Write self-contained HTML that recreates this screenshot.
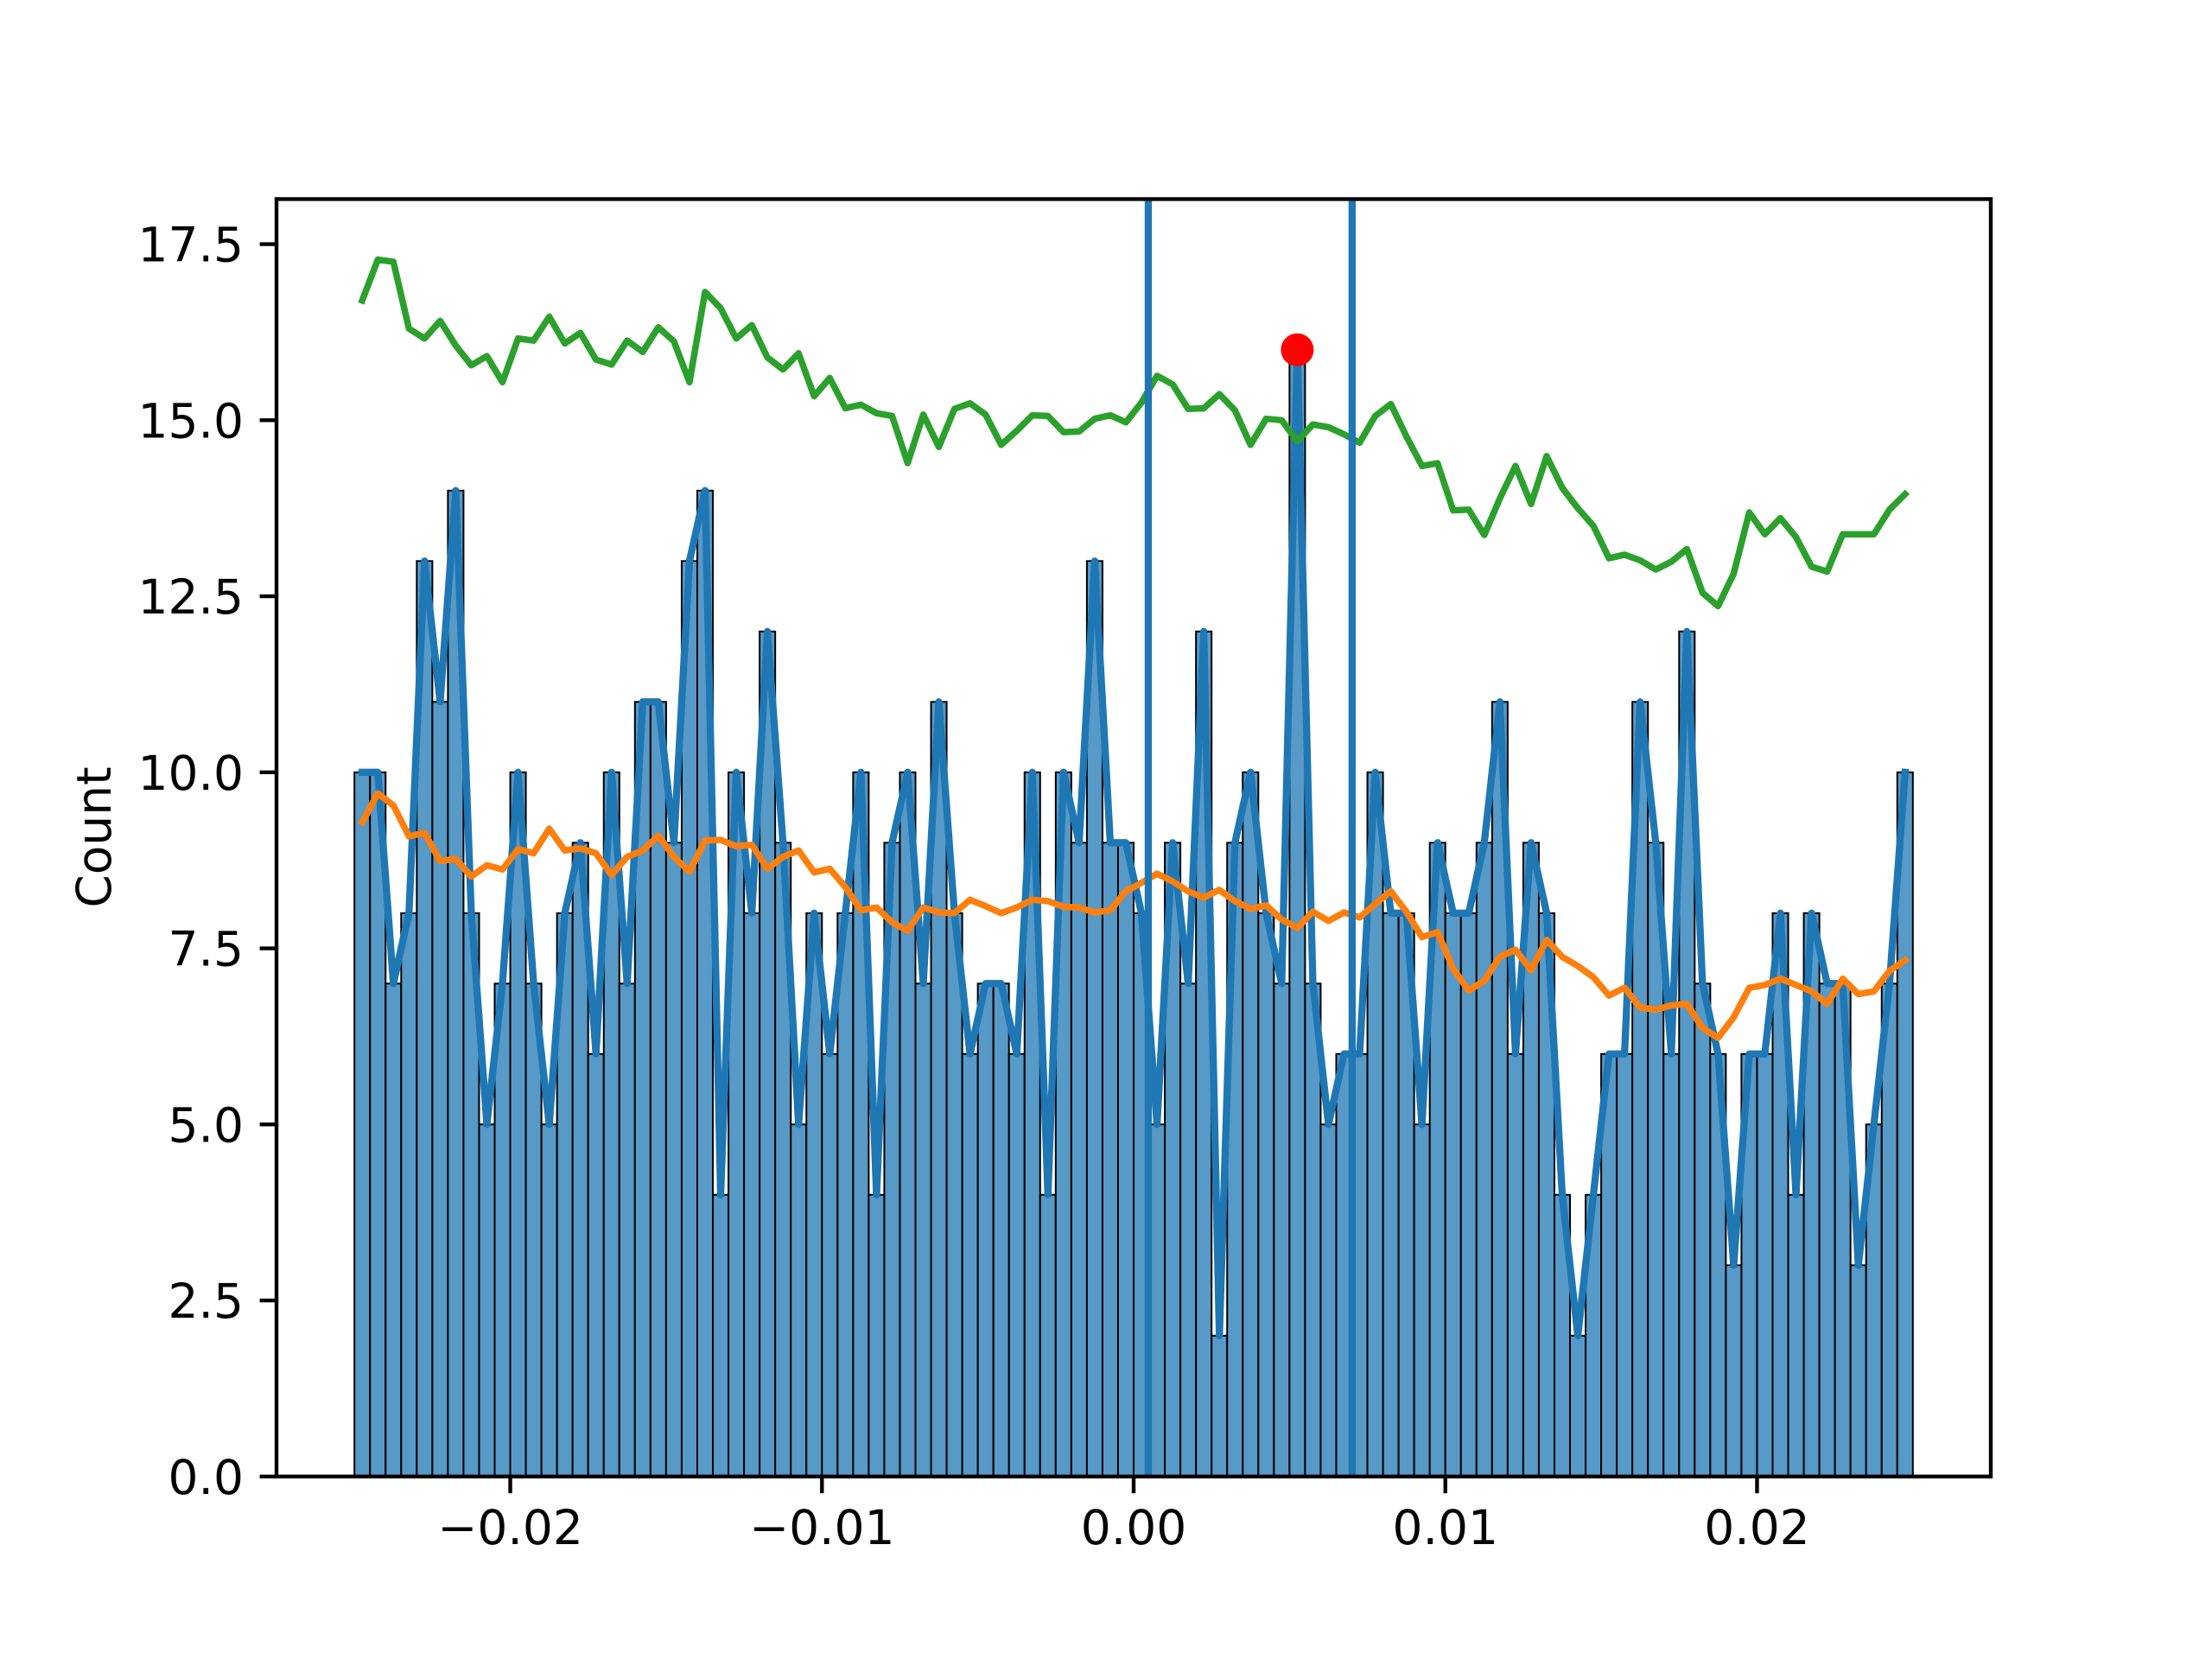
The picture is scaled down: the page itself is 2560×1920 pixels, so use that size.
<!DOCTYPE html>
<html><head><meta charset="utf-8"><style>
html,body{margin:0;padding:0;background:#fff;}
svg{display:block;font-family:"DejaVu Sans","Liberation Sans",sans-serif;}
</style></head>
<body>
<svg id="chart" width="2560" height="1920" viewBox="0 0 2560 1920" xmlns="http://www.w3.org/2000/svg">
<rect x="0" y="0" width="2560" height="1920" fill="#fff"/>
<g id="bars"></g>
<g id="lines"></g>
<g id="axes"></g>
<text x="0" y="0" font-size="55" text-anchor="middle" transform="translate(128,969) rotate(-90)">Count</text>
</svg>
<script>
const counts = [10,10,7,8,13,11,14,8,5,7,10,7,5,8,9,6,10,7,11,11,9,13,14,4,10,
8,12,9,5,8,6,8,10,4,9,10,7,11,8,6,7,7,6,10,4,10,9,13,9,9,
8,5,9,7,12,2,9,10,8,7,16,7,5,6,6,10,8,8,5,9,8,8,9,11,6,
9,8,4,2,4,6,6,11,9,6,12,7,6,3,6,6,8,4,8,7,7,3,5,7,10];
const greenVals = [16.70,17.28,17.25,16.30,16.16,16.41,16.06,15.78,15.91,15.54,16.16,16.13,16.47,16.09,16.24,15.86,15.79,16.13,15.97,16.32,16.12,15.54,16.82,16.59,16.16,
16.35,15.89,15.72,15.95,15.34,15.60,15.17,15.22,15.10,15.06,14.39,15.08,14.62,15.16,15.24,15.08,14.65,14.85,15.07,15.06,14.83,14.84,15.02,15.07,14.97,
15.25,15.63,15.51,15.16,15.17,15.37,15.14,14.65,15.02,15.00,14.70,14.94,14.90,14.80,14.68,15.06,15.23,14.77,14.35,14.39,13.72,13.73,13.37,13.89,14.35,
13.81,14.49,14.04,13.75,13.50,13.04,13.09,13.01,12.88,12.99,13.17,12.55,12.36,12.82,13.69,13.38,13.61,13.34,12.92,12.85,13.38,13.38,13.38,13.73,13.95];
const orangeVals = [9.29,9.70,9.53,9.09,9.14,8.74,8.77,8.52,8.68,8.62,8.91,8.85,9.20,8.89,8.92,8.85,8.54,8.80,8.89,9.10,8.80,8.59,9.03,9.04,8.95,
8.97,8.63,8.80,8.89,8.58,8.63,8.37,8.04,8.08,7.87,7.75,8.08,8.01,8.00,8.19,8.10,8.00,8.08,8.19,8.17,8.09,8.08,8.01,8.04,8.31,
8.43,8.56,8.45,8.31,8.22,8.33,8.17,8.06,8.11,7.91,7.79,8.02,7.89,8.01,7.94,8.13,8.31,8.02,7.66,7.73,7.21,6.90,7.04,7.38,7.48,
7.19,7.62,7.38,7.25,7.09,6.83,6.94,6.66,6.63,6.69,6.71,6.37,6.23,6.52,6.94,6.98,7.07,6.98,6.89,6.71,7.07,6.85,6.89,7.18,7.33];
const vlinePositions = [0.00047, 0.00701];
const peakX = [0.00525];
const peakY = [16];
const yTicks = [0,2.5,5,7.5,10,12.5,15,17.5];
const yTickLabels = ["0.0","2.5","5.0","7.5","10.0","12.5","15.0","17.5"];
const xTicks = [-0.02,-0.01,0,0.01,0.02];
const xTickLabels = ["\u22120.02","\u22120.01","0.00","0.01","0.02"];
const binStart = -0.025, binWidth = 0.0005;

const L=320,R=2304,T=230.4,B=1708.8;
const XMIN=-0.0275,XMAX=0.0275,YMIN=0,YMAX=18.14;
function X(v){return L+(v-XMIN)/(XMAX-XMIN)*(R-L);}
function Y(v){return B-(v-YMIN)/(YMAX-YMIN)*(B-T);}
const NS="http://www.w3.org/2000/svg";
function mk(tag,attrs,parent){const e=document.createElementNS(NS,tag);for(const k in attrs)e.setAttribute(k,attrs[k]);parent.appendChild(e);return e;}

const gb=document.getElementById('bars');
counts.forEach((c,i)=>{
  const x0=X(binStart+i*binWidth), x1=X(binStart+(i+1)*binWidth);
  const r=mk('rect',{x:x0,y:Y(c),width:x1-x0,height:Y(0)-Y(c),fill:'#5799c7',stroke:'#000','stroke-width':2},gb);
  
  
});
const gl=document.getElementById('lines');
function poly(vals,color,w,name){
  const pts=vals.map((v,i)=>X(binStart+(i+0.5)*binWidth).toFixed(2)+','+Y(v).toFixed(2)).join(' ');
  const p=mk('polyline',{points:pts,fill:'none',stroke:color,'stroke-width':w,'stroke-linejoin':'round','stroke-linecap':'square'},gl);
  
  
}
poly(counts,'#1f77b4',8.3,'count-line');
poly(orangeVals,'#ff7f0e',7.5,'orange-line');
poly(greenVals,'#2ca02c',7.5,'green-line');
vlinePositions.forEach(v=>{
  const l=mk('line',{x1:X(v),x2:X(v),y1:T,y2:B,stroke:'#1f77b4','stroke-width':8.3},gl);
  
  
});
peakX.forEach((v,i)=>{
  const c=mk('circle',{cx:X(v),cy:Y(peakY[i]),r:19,fill:'#ff0000'},gl);
  
  
});
const ga=document.getElementById('axes');
const frame=mk('rect',{x:L,y:T,width:R-L,height:B-T,fill:'none',stroke:'#000','stroke-width':4.4},ga);


yTicks.forEach((v,i)=>{
  const t=mk('line',{x1:L-19.4,x2:L,y1:Y(v),y2:Y(v),stroke:'#000','stroke-width':4.4},ga);
  
  
  const tx=mk('text',{x:L-38,y:Y(v)+20,'font-size':55,'text-anchor':'end',fill:'#000'},ga);
  tx.textContent=yTickLabels[i];
  
  
});
xTicks.forEach((v,i)=>{
  const t=mk('line',{x1:X(v),x2:X(v),y1:B,y2:B+19.4,stroke:'#000','stroke-width':4.4},ga);
  
  
  const tx=mk('text',{x:X(v),y:B+38+40,'font-size':55,'text-anchor':'middle',fill:'#000'},ga);
  tx.textContent=xTickLabels[i];
  
  
});
</script>
</body></html>
